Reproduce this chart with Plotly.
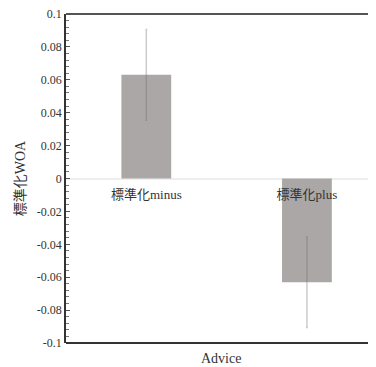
import plotly.graph_objects as go

categories = ["標準化minus", "標準化plus"]
values = [0.063, -0.063]
errors = [0.0276, 0.0276]
y_ticks = [0.1, 0.08, 0.06, 0.04, 0.02, 0, -0.02, -0.04, -0.06, -0.08, -0.1]
y_tick_labels = ["0.1", "0.08", "0.06", "0.04", "0.02", "0", "-0.02", "-0.04", "-0.06", "-0.08", "-0.1"]

serif = "'Liberation Serif', 'Times New Roman', 'Noto Sans CJK JP', serif"

fig = go.Figure()
fig.add_trace(go.Bar(
    x=categories, y=values, width=0.31,
    marker=dict(color="#aba7a6", line=dict(width=0)),
    error_y=dict(type="data", array=errors, color="rgba(110,110,110,0.35)", thickness=1.5, width=1),
))

# page body has an 8px default margin, so the figure is sized to fit the window
fig.update_layout(
    width=368, height=359,
    margin=dict(l=58, r=0, t=6, b=24),
    plot_bgcolor="white", paper_bgcolor="white",
    showlegend=False,
    font=dict(family=serif, color="#333"),
    xaxis=dict(
        type="category", range=[-0.5, 1.43],
        anchor="free", position=0.5, automargin=False,
        showline=False, ticks="", showgrid=False, zeroline=False,
        ticklabelstandoff=6,
        tickfont=dict(size=13, color="#333"),
    ),
    yaxis=dict(
        range=[-0.1, 0.1], tickvals=y_ticks, ticktext=y_tick_labels,
        automargin=False, ticklabeloverflow="allow",
        showgrid=False, zeroline=True, zerolinecolor="#eeeeee", zerolinewidth=2,
        showline=True, linecolor="#333", linewidth=1.5,
        ticks="inside", ticklen=4, tickcolor="#555",
        minor=dict(dtick=0.004, ticks="inside", ticklen=3, tickcolor="#777"),
        tickfont=dict(size=12, color="#333"),
        title=dict(text="標準化WOA", font=dict(size=14, color="#333"), standoff=8),
    ),
    shapes=[
        dict(type="line", xref="paper", yref="paper", x0=0, x1=1, y0=1, y1=1,
             line=dict(color="#555", width=2)),
        dict(type="line", xref="paper", yref="paper", x0=0, x1=1, y0=0, y1=0,
             line=dict(color="#333", width=2)),
    ],
    annotations=[
        dict(text="Advice", xref="paper", yref="paper", x=0.5, y=0, yshift=-15,
             showarrow=False, font=dict(size=14, color="#333"), yanchor="middle"),
    ],
)

fig.write_html("out.html")
